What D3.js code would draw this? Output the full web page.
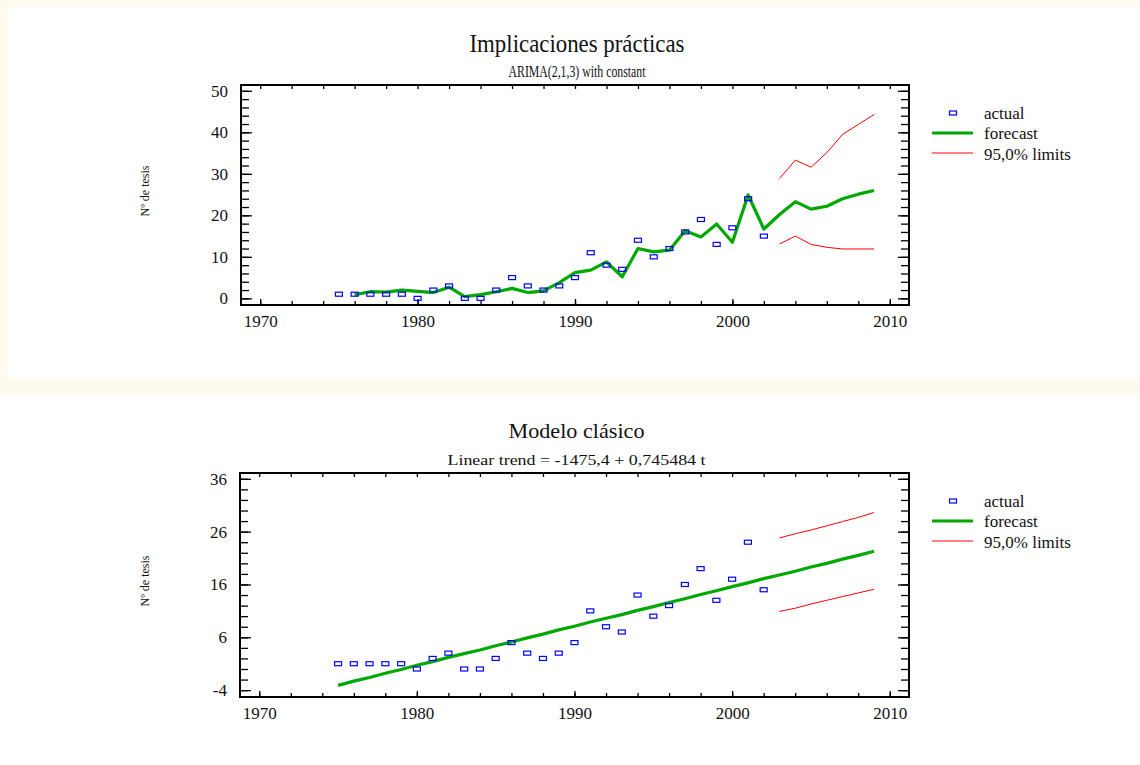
<!DOCTYPE html>
<html lang="es">
<head>
<meta charset="utf-8">
<title>Implicaciones prácticas / Modelo clásico</title>
<script src="https://d3js.org/d3.v7.min.js"></script>
<style>
body { margin: 0; background: #ffffff; }
svg { display: block; }
text { font-family: "Liberation Serif", "Times New Roman", serif; fill: #111; }
</style>
</head>
<body>
<div id="chart"></div>
<script>

// ---- data ----
var actualYears  = [1975,1976,1977,1978,1979,1980,1981,1982,1983,1984,1985,1986,1987,1988,
                    1989,1990,1991,1992,1993,1994,1995,1996,1997,1998,1999,2000,2001,2002];
var actualValues = [1,1,1,1,1,0,2,3,0,0,2,5,3,2,3,5,11,8,7,14,10,12,16,19,13,17,24,15];

// ARIMA(2,1,3) forecast
var arimaYears  = [1976,1977,1978,1979,1980,1981,1982,1983,1984,1985,1986,1987,1988,1989,1990,1991,1992,
                   1993,1994,1995,1996,1997,1998,1999,2000,2001,2002,2003,2004,2005,2006,2007,2008,2009];
var arimaValues = [0.9,1.6,1.5,2.0,1.7,1.4,2.7,0.4,0.9,1.6,2.4,1.4,1.8,3.8,6.2,6.8,8.8,
                   5.2,12.0,11.2,11.6,16.3,14.8,17.9,13.5,24.9,16.7,20.2,23.3,21.5,22.2,24.0,25.1,26.0];
var limitYears  = [2003,2004,2005,2006,2007,2008,2009];
var arimaUpper  = [28.9,33.3,31.6,35.1,39.5,41.9,44.3];
var arimaLower  = [13.1,15.0,13.0,12.3,11.9,11.9,11.9];

// linear trend forecast
var trendYears  = [1975,1976,1977,1978,1979,1980,1981,1982,1983,1984,1985,1986,1987,1988,1989,1990,1991,1992,
                   1993,1994,1995,1996,1997,1998,1999,2000,2001,2002,2003,2004,2005,2006,2007,2008,2009];
var trendValues = [-3.1,-2.3,-1.6,-0.8,-0.1,0.7,1.4,2.2,2.9,3.6,4.4,5.1,5.9,6.6,7.4,8.1,8.9,9.6,
                   10.3,11.1,11.8,12.6,13.3,14.1,14.8,15.6,16.3,17.1,17.8,18.5,19.3,20.0,20.8,21.5,22.3];
var trendUpper  = [24.8,25.6,26.3,27.1,27.9,28.7,29.6];
var trendLower  = [10.9,11.5,12.3,13.0,13.7,14.4,15.1];

// ticks
var xMajorTicks = [1970,1980,1990,2000,2010];
var xMinorTicks = [1970,1972,1974,1976,1978,1980,1982,1984,1986,1988,1990,
                   1992,1994,1996,1998,2000,2002,2004,2006,2008,2010];
var yTopMajor   = [0,10,20,30,40,50];
var yTopMinor   = [0,2,4,6,8,10,12,14,16,18,20,22,24,26,28,30,32,34,36,38,40,42,44,46,48,50];
var yBotMajor   = [-4,6,16,26,36];
var yBotMinor   = [-4,-2,0,2,4,6,8,10,12,14,16,18,20,22,24,26,28,30,32,34,36];

var legendLabels = ["actual", "forecast", "95,0% limits"];

var W = 1140, H = 765;
var GREEN = "#00a800", RED = "#ff0000", BLUE = "#0000ff";

var svg = d3.select("#chart").append("svg")
    .attr("width", W)
    .attr("height", H);

// background, top panel has a light cream frame
svg.append("rect").attr("width", W).attr("height", H).attr("fill", "#ffffff");
svg.append("rect").attr("x", 0).attr("y", 0).attr("width", W).attr("height", 394).attr("fill", "#fffaee");
svg.append("rect").attr("x", 7).attr("y", 7).attr("width", W - 7).attr("height", 371).attr("fill", "#ffffff");

// plain hyphen for negatives, like the original
var fmt = function(d) { return String(d); };

function drawPanel(p) {
  var x = d3.scaleLinear().domain([1968.78, 2011.22]).range([p.left, p.right]);
  var y = d3.scaleLinear().domain(p.yDomain).range([p.bottom, p.top]);
  var cx = (p.left + p.right) / 2;

  // titles
  svg.append("text")
      .attr("x", cx + 2).attr("y", p.titleY)
      .attr("text-anchor", "middle")
      .attr("font-size", p.titleSize)
      .attr("textLength", p.titleLen)
      .attr("lengthAdjust", "spacingAndGlyphs")
      .text(p.title);
  svg.append("text")
      .attr("x", cx + 2).attr("y", p.subY)
      .attr("text-anchor", "middle")
      .attr("font-size", p.subSize)
      .attr("textLength", p.subLen)
      .attr("lengthAdjust", "spacingAndGlyphs")
      .text(p.subtitle);

  // y label
  svg.append("text")
      .attr("transform", "translate(149," + ((p.top + p.bottom) / 2 - 4) + ") rotate(-90)")
      .attr("text-anchor", "middle")
      .attr("font-size", 12)
      .text("Nº de tesis");

  // axes (ticks point inward)
  var g;
  svg.append("g").attr("transform", "translate(" + p.left + ",0)")
      .call(d3.axisLeft(y).tickValues(p.yMinor).tickSize(-8).tickFormat(""));
  g = svg.append("g").attr("transform", "translate(" + p.left + ",0)")
      .call(d3.axisLeft(y).tickValues(p.yMajor).tickSize(-11).tickPadding(13).tickFormat(fmt));
  g.selectAll("text").attr("font-size", 17).style("font-family", "Liberation Serif, serif").attr("fill", "#111");
  svg.append("g").attr("transform", "translate(" + p.right + ",0)")
      .call(d3.axisRight(y).tickValues(p.yMinor).tickSize(-8).tickFormat(""));
  svg.append("g").attr("transform", "translate(" + p.right + ",0)")
      .call(d3.axisRight(y).tickValues(p.yMajor).tickSize(-11).tickFormat(""));
  svg.append("g").attr("transform", "translate(0," + p.bottom + ")")
      .call(d3.axisBottom(x).tickValues(xMinorTicks).tickSize(-4).tickFormat(""));
  g = svg.append("g").attr("transform", "translate(0," + p.bottom + ")")
      .call(d3.axisBottom(x).tickValues(xMajorTicks).tickSize(-6).tickPadding(10).tickFormat(fmt));
  g.selectAll("text").attr("font-size", 17).style("font-family", "Liberation Serif, serif").attr("fill", "#111");
  svg.append("g").attr("transform", "translate(0," + p.top + ")")
      .call(d3.axisTop(x).tickValues(xMinorTicks).tickSize(-4).tickFormat(""));
  svg.selectAll(".domain").remove();
  svg.selectAll(".tick line").attr("stroke", "#000").attr("stroke-width", 1.3);

  // frame
  svg.append("rect")
      .attr("x", p.left).attr("y", p.top)
      .attr("width", p.right - p.left).attr("height", p.bottom - p.top)
      .attr("fill", "none").attr("stroke", "#000").attr("stroke-width", 2);

  var line = d3.line()
      .x(function(d) { return x(d[0]); })
      .y(function(d) { return y(d[1]); });

  // limits
  [p.upper, p.lower].forEach(function(arr) {
    svg.append("path")
        .datum(limitYears.map(function(t, i) { return [t, arr[i]]; }))
        .attr("d", line)
        .attr("fill", "none").attr("stroke", RED).attr("stroke-width", 1);
  });

  // forecast
  svg.append("path")
      .datum(p.fYears.map(function(t, i) { return [t, p.fValues[i]]; }))
      .attr("d", line)
      .attr("fill", "none").attr("stroke", GREEN).attr("stroke-width", 3.2)
      .attr("stroke-linejoin", "round");

  // actual points
  svg.append("g").selectAll("rect")
      .data(actualYears.map(function(t, i) { return [t, actualValues[i]]; }))
      .enter().append("rect")
        .attr("x", function(d) { return x(d[0]) - 3.5; })
        .attr("y", function(d) { return y(d[1]) - 2; })
        .attr("width", 7).attr("height", 4)
        .attr("fill", "none").attr("stroke", BLUE).attr("stroke-width", 1.2);

  // legend
  var ly = p.top + 28;
  svg.append("rect").attr("x", 949.5).attr("y", ly - 2).attr("width", 7).attr("height", 4)
      .attr("fill", "none").attr("stroke", BLUE).attr("stroke-width", 1.2);
  svg.append("line").attr("x1", 932).attr("x2", 973).attr("y1", ly + 20).attr("y2", ly + 20)
      .attr("stroke", GREEN).attr("stroke-width", 3.2);
  svg.append("line").attr("x1", 932).attr("x2", 973).attr("y1", ly + 40).attr("y2", ly + 40)
      .attr("stroke", RED).attr("stroke-width", 1);
  legendLabels.forEach(function(lab, i) {
    svg.append("text")
        .attr("x", 984).attr("y", ly + i * 20.5)
        .attr("dy", "0.33em")
        .attr("font-size", 17)
        .text(lab);
  });
}

drawPanel({
  left: 241, right: 909, top: 85, bottom: 305,
  yDomain: [-1.6, 51.4], yMajor: yTopMajor, yMinor: yTopMinor,
  title: "Implicaciones prácticas", titleY: 52, titleSize: 25, titleLen: 215,
  subtitle: "ARIMA(2,1,3) with constant", subY: 77, subSize: 16, subLen: 137,
  fYears: arimaYears, fValues: arimaValues, upper: arimaUpper, lower: arimaLower
});

drawPanel({
  left: 240, right: 909, top: 473, bottom: 697,
  yDomain: [-5.3, 37.1], yMajor: yBotMajor, yMinor: yBotMinor,
  title: "Modelo clásico", titleY: 438, titleSize: 22, titleLen: 136,
  subtitle: "Linear trend = -1475,4 + 0,745484 t", subY: 465, subSize: 15, subLen: 258,
  fYears: trendYears, fValues: trendValues, upper: trendUpper, lower: trendLower
});

</script>
</body>
</html>
